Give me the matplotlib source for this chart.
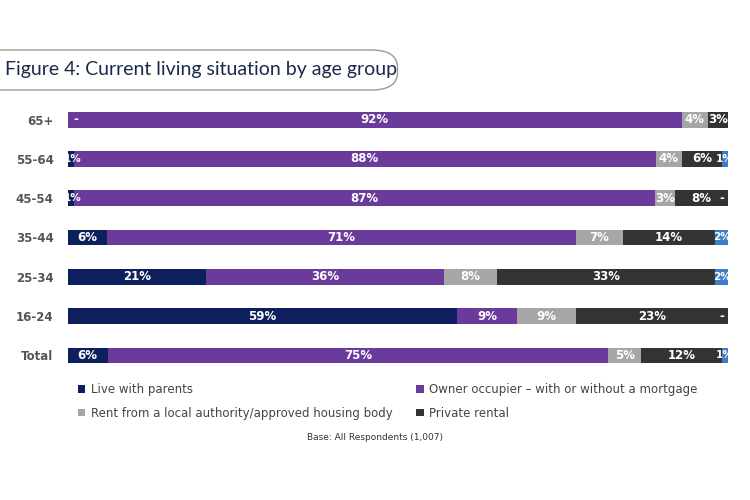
import matplotlib
matplotlib.use("Agg")
import matplotlib.pyplot as plt
from matplotlib.patches import FancyBboxPatch
import numpy as np

categories = ["65+", "55-64", "45-54", "35-44", "25-34", "16-24", "Total"]
series_names = ["Live with parents", "Owner occupier \u2013 with or without a mortgage",
                "Rent from a local authority/approved housing body", "Private rental", "Other"]
parents = [0, 1, 1, 6, 21, 59, 6]
owner = [92, 88, 87, 71, 36, 9, 75]
rent_la = [4, 4, 3, 7, 8, 9, 5]
private = [3, 6, 8, 14, 33, 23, 12]
other = [0, 1, 0, 2, 2, 0, 1]
dash_labels = {"65+": "start", "45-54": "end", "16-24": "end"}

colors = ["#0d1f5c", "#6a3b9a", "#a6a6a6", "#333333", "#3d7cc9"]
data = np.array([parents, owner, rent_la, private, other], dtype=float)
norm = data / data.sum(axis=0) * 100

fig = plt.figure(figsize=(7.5, 5), dpi=100)
ax = fig.add_axes([0.09, 0.25, 0.881, 0.55])
y = np.arange(len(categories))
left = np.zeros(len(categories))
handles = []
for i, (name, c) in enumerate(zip(series_names, colors)):
    vals = norm[i]
    h = ax.barh(y, vals, left=left, height=0.4, color=c)
    handles.append(h)
    for j, v in enumerate(vals):
        if data[i, j] > 0:
            small = data[i, j] <= 2
            ax.text(left[j] + (max(v, 1.6) / 2 if i == 0 else v / 2), j, f"{int(data[i, j])}%",
                    ha="center", va="center", color="white",
                    fontsize=7.5 if small else 8.5, fontweight="bold")
    left += vals
for j, cat in enumerate(categories):
    if cat in dash_labels:
        xpos = 1.2 if dash_labels[cat] == "start" else 99
        ax.text(xpos, j, "-", ha="center", va="center", color="white", fontsize=8.5, fontweight="bold")

ax.set_xlim(0, 100)
ax.set_ylim(len(categories) - 0.5, -0.5)
ax.set_yticks(y)
ax.set_yticklabels(categories, fontsize=8.5, fontweight="bold", color="#555555")
ax.tick_params(axis="y", length=0, pad=10)
ax.set_xticks([])
for s in ax.spines.values():
    s.set_visible(False)

order = [0, 2, 1, 3]
fig.legend([handles[k] for k in order], [series_names[k] for k in order],
           loc="upper left", bbox_to_anchor=(0.09, 0.255), ncol=2, frameon=False,
           fontsize=8.5, handlelength=0.6, handleheight=0.6, columnspacing=2.0,
           labelcolor="#444444", handletextpad=0.5, labelspacing=0.9)

fig.text(0.5, 0.12, "Base: All Respondents (1,007)", ha="center", fontsize=6.5, color="#333333")

box = FancyBboxPatch((-0.05, 0.82), 0.58, 0.08, boxstyle="round,pad=0,rounding_size=0.035",
                     transform=fig.transFigure, fill=False, edgecolor="#999999", linewidth=1)
fig.patches.append(box)
fig.text(0.007, 0.86, "Figure 4: Current living situation by age group", fontsize=14,
         color="#1a2a4a", va="center", family="Lato")

fig.savefig("out.png", dpi=100, facecolor="white")
